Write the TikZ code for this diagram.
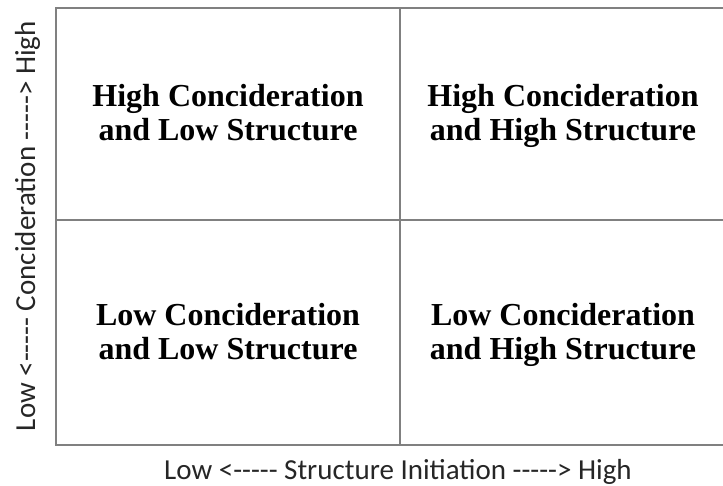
\documentclass[tikz,border=0pt]{standalone}
\usepackage{fontspec}
\setmainfont{Liberation Serif}
\newfontfamily\axisfont{Carlito}
\begin{document}
\begin{tikzpicture}[x=1pt, y=-1pt,
    every node/.style={inner sep=0pt},
    quad/.style={align=center, font=\fontsize{32}{34}\selectfont\bfseries},
    axis/.style={font=\axisfont\fontsize{29}{31}\selectfont, text=black!85}]
    \useasboundingbox (0,0) rectangle (723,486);
    % grid
    \coordinate (nw) at (56,8);
    \coordinate (se) at (726,445);
    \draw[gray, line width=2pt] (nw) rectangle (se);
    \draw[gray, line width=2pt] (400,8) -- (400,445);
    \draw[gray, line width=2pt] (56,220.5) -- (726,220.5);
    % quadrants
    \node[quad] (hclo) at (228,118) {High Concideration\\and Low Structure\strut};
    \node[quad] (hchi) at (563,118) {High Concideration\\and High Structure\strut};
    \node[quad] (lclo) at (228,336) {Low Concideration\\and Low Structure\strut};
    \node[quad] (lchi) at (563,336) {Low Concideration\\and High Structure\strut};
    % axes
    \node[axis, anchor=base] (xlab) at (398,479) {Low <----- Structure Initiation -----> High};
    \node[axis, anchor=base, rotate=90] (ylab) at (35,226) {Low <----- Concideration -----> High};
\end{tikzpicture}
\end{document}
